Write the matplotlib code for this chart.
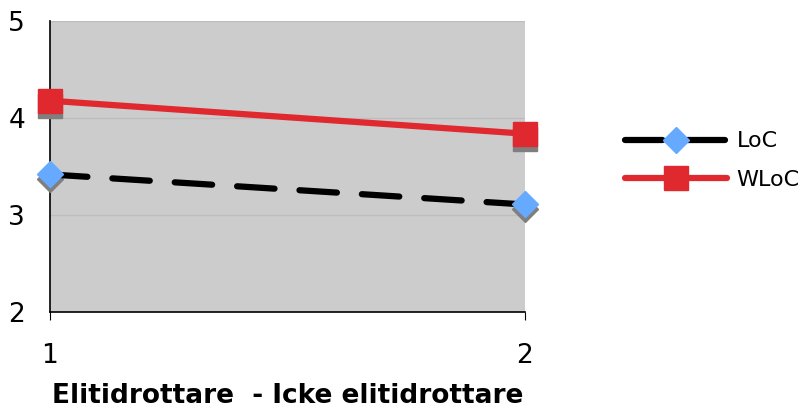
import numpy as np
import matplotlib
matplotlib.use('Agg')
import matplotlib.pyplot as plt
import matplotlib.transforms as mtransforms

# data
groups = [1, 2]
loc = [3.42, 3.11]
wloc = [4.18, 3.84]
xlabel = 'Elitidrottare  - Icke elitidrottare'

fig = plt.figure(figsize=(8.06, 4.07), dpi=100)
ax = fig.add_axes([0.062, 0.233, 0.589, 0.715])
ax.set_facecolor('#cccccc')

ax.grid(axis='y', color='#bdbdbd', linewidth=1)
ax.set_axisbelow(True)

# grey marker shadows, offset a little down
shadow = mtransforms.offset_copy(ax.transData, fig=fig, x=0, y=-5, units='dots')
ax.plot(groups, loc, linestyle='none', marker='D', markersize=13, color='#7f7f7f',
        transform=shadow, zorder=3)
ax.plot(groups, wloc, linestyle='none', marker='s', markersize=17, color='#7f7f7f',
        transform=shadow, zorder=3)

ax.plot(groups, loc, color='black', linewidth=4.5, dashes=(6, 4), dash_capstyle='round',
        marker='D', markersize=13, markerfacecolor='#66aaff', markeredgecolor='#66aaff',
        label='LoC', zorder=4)
ax.plot(groups, wloc, color='#e0282f', linewidth=4.5, solid_capstyle='round',
        marker='s', markersize=17, markerfacecolor='#e0282f', markeredgecolor='#e0282f',
        label='WLoC', zorder=4)

ax.set_xlim(1, 2)
ax.set_ylim(2, 5)
ax.set_xticks(groups)
ax.set_yticks([2, 3, 4, 5])
ax.tick_params(axis='x', labelsize=19, direction='out', length=6, pad=16)
ax.tick_params(axis='y', labelsize=19, length=0, pad=18)
for s in ['top', 'right']:
    ax.spines[s].set_visible(False)
for s in ['left', 'bottom']:
    ax.spines[s].set_color('black')
    ax.spines[s].set_linewidth(1.2)
for c in ax.get_children():
    if isinstance(c, matplotlib.lines.Line2D):
        c.set_clip_on(False)

ax.set_xlabel(xlabel, fontsize=19, fontweight='bold', labelpad=10)

leg = fig.legend(handles=ax.get_lines()[2:], labels=['LoC', 'WLoC'], loc='center left',
                 bbox_to_anchor=(0.75, 0.605), frameon=False, fontsize=16,
                 handlelength=4.6, handletextpad=0.45, labelspacing=0.85)

fig.savefig('out.png', dpi=100)
